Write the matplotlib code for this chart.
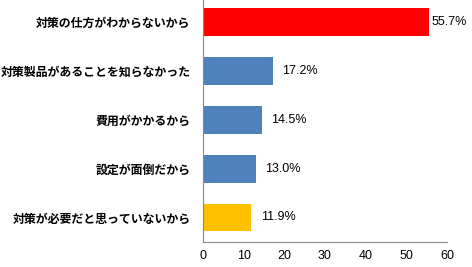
import matplotlib.pyplot as plt

plt.rcParams['font.family'] = ['Noto Sans CJK JP', 'DejaVu Sans']

labels = ["対策の仕方がわからないから", "対策製品があることを知らなかった", "費用がかかるから",
          "設定が面倒だから", "対策が必要だと思っていないから"]
values = [55.7, 17.2, 14.5, 13.0, 11.9]
colors = ["#FF0000", "#4F81BD", "#4F81BD", "#4F81BD", "#FFC000"]

fig = plt.figure(figsize=(4.72, 2.67), dpi=100)
ax = fig.add_axes([0.430, 0.094, 0.517, 0.906])

pos = list(range(len(labels)))
ax.barh(pos, values, height=0.57, color=colors)
ax.set_ylim(len(labels) - 0.5, -0.45)
ax.set_xlim(0, 60)
ax.set_xticks(range(0, 61, 10))
ax.set_yticks(pos)
ax.set_yticklabels(labels, fontsize=8.6, fontweight='bold')
ax.tick_params(axis='y', length=0, pad=9)
ax.tick_params(axis='x', length=0, pad=6)
for t in ax.get_xticklabels():
    t.set_family('Liberation Sans')
    t.set_fontsize(9)

for i, v in enumerate(values):
    off = 0.6 if v > 50 else 2.3
    ax.text(v + off, i, f"{v:.1f}%", va='center', ha='left', fontsize=9,
            family='Liberation Sans')

for s in ['top', 'right']:
    ax.spines[s].set_visible(False)
for s in ['left', 'bottom']:
    ax.spines[s].set_color('#888888')

fig.savefig("out.png", dpi=100)
